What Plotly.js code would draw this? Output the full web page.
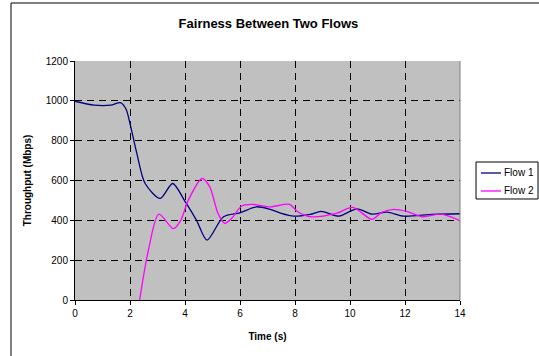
<!DOCTYPE html>
<html>
<head>
<meta charset="utf-8">
<script src="https://cdn.plot.ly/plotly-3.0.1.min.js"></script>
<style>
html,body{margin:0;padding:0;background:#fff;}
#chart{width:539px;height:356px;}
</style>
</head>
<body>
<div id="chart"></div>
<script>
// Data
const flow1Time = [0, 0.7, 1.3, 1.65, 1.85, 2.0, 2.25, 2.55, 3.1, 3.55, 4.0, 4.42, 4.8, 5.4, 6.0, 6.6, 7.1, 7.5, 7.95, 8.55, 8.95, 9.6, 10.25, 10.8, 11.35, 11.95, 13.0, 14];
const flow1Values = [998, 978, 978, 991, 960, 886, 735, 585, 510, 585, 495, 400, 301, 418, 438, 468, 455, 435, 421, 430, 445, 421, 458, 431, 441, 421, 430, 433];

const flow2Time = [2.35, 2.67, 3.05, 3.58, 3.85, 4.1, 4.62, 4.9, 5.2, 5.45, 5.7, 6.05, 6.45, 7.1, 7.8, 8.1, 8.55, 9.5, 10.1, 10.8, 11.15, 11.6, 12.05, 12.65, 13.3, 14];
const flow2Values = [0, 251, 431, 358, 401, 495, 610, 568, 435, 385, 410, 471, 480, 468, 480, 443, 418, 435, 465, 405, 440, 455, 445, 418, 431, 398];

const seriesNames = ["Flow 1", "Flow 2"];
const seriesColors = ["#000080", "#FF00FF"];
const xTicks = [0, 2, 4, 6, 8, 10, 12, 14];
const yTicks = [0, 200, 400, 600, 800, 1000, 1200];

const FONT = "Arial, 'Liberation Sans', sans-serif";

const traces = [
  {x: flow1Time, y: flow1Values, name: seriesNames[0], type: "scatter", mode: "lines",
   line: {color: seriesColors[0], width: 1.3, shape: "spline", smoothing: 0.8}},
  {x: flow2Time, y: flow2Values, name: seriesNames[1], type: "scatter", mode: "lines",
   line: {color: seriesColors[1], width: 1.3, shape: "spline", smoothing: 0.8}}
];

// Manual legend (paper coordinates, to fit the narrow box of the reference)
const legendRows = [0.5314, 0.4561];
const legendShapes = [
  {type: "rect", xref: "paper", yref: "paper", x0: 1.0416, x1: 1.2026, y0: 0.4226, y1: 0.5774,
   line: {color: "#000", width: 1}, fillcolor: "#ffffff"}
];
const legendAnnotations = [];
seriesNames.forEach((name, i) => {
  legendShapes.push({type: "line", xref: "paper", yref: "paper", x0: 1.0545, x1: 1.1065,
    y0: legendRows[i], y1: legendRows[i], line: {color: seriesColors[i], width: 1.3}});
  legendAnnotations.push({xref: "paper", yref: "paper", x: 1.1095, y: legendRows[i],
    xanchor: "left", yanchor: "middle", showarrow: false, text: name,
    font: {family: FONT, size: 10, color: "#000"}});
});

const layout = {
  width: 539, height: 356,
  margin: {l: 75, r: 79, t: 61, b: 56, pad: 0, autoexpand: false},
  paper_bgcolor: "#ffffff",
  plot_bgcolor: "#C0C0C0",
  font: {family: FONT, size: 10, color: "#000"},
  title: {text: "<b>Fairness Between Two Flows</b>", font: {family: FONT, size: 13, color: "#000"},
          xref: "container", x: 0.498, xanchor: "center", yref: "container", y: 0.933, yanchor: "middle"},
  xaxis: {
    range: [0, 14], tickvals: xTicks, ticktext: xTicks.map(String),
    showgrid: true, gridcolor: "#000000", gridwidth: 1, griddash: "7px,5px",
    zeroline: false, showline: true, linecolor: "#000", linewidth: 1,
    ticks: "outside", ticklen: 4, tickcolor: "#000",
    tickfont: {family: FONT, size: 10, color: "#000"},
    title: {text: "<b>Time (s)</b>", font: {family: FONT, size: 10, color: "#000"}, standoff: 14}
  },
  yaxis: {
    range: [0, 1200], tickvals: yTicks, ticktext: yTicks.map(String),
    showgrid: true, gridcolor: "#000000", gridwidth: 1, griddash: "7px,5px",
    zeroline: false, showline: true, linecolor: "#000", linewidth: 1,
    ticks: "outside", ticklen: 4, tickcolor: "#000",
    tickfont: {family: FONT, size: 10, color: "#000"},
    title: {text: "<b>Throughput (Mbps)</b>", font: {family: FONT, size: 10, color: "#000"}, standoff: 12}
  },
  showlegend: false,
  annotations: legendAnnotations,
  shapes: [
    {type: "line", xref: "paper", yref: "paper", x0: 1, x1: 1, y0: 0, y1: 1,
     line: {color: "#808080", width: 1}},
    {type: "rect", xref: "paper", yref: "paper", x0: -0.1662, x1: 1.25, y0: -0.27, y1: 1.2427,
     line: {color: "#000", width: 1}, layer: "below"}
  ].concat(legendShapes)
};

Plotly.newPlot("chart", traces, layout, {staticPlot: true, displayModeBar: false});
</script>
</body>
</html>
